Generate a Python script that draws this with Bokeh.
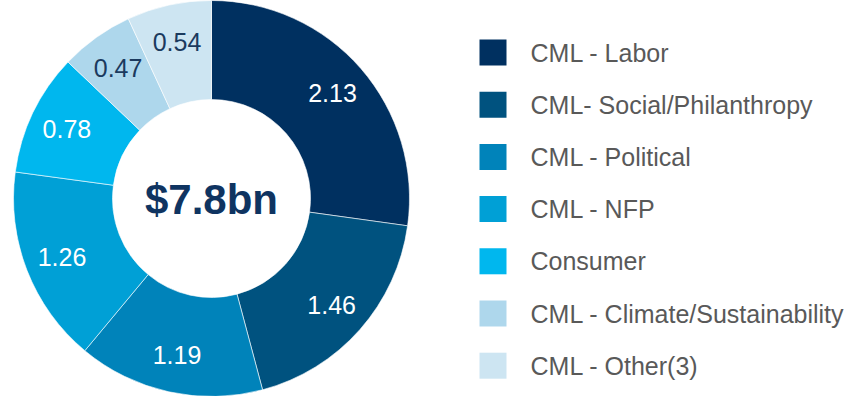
import math
from bokeh.plotting import figure
from bokeh.models import ColumnDataSource, Range1d
from bokeh.core.properties import value
from bokeh.embed import file_html
from bokeh.resources import INLINE

categories = ["CML - Labor", "CML- Social/Philanthropy", "CML - Political", "CML - NFP",
              "Consumer", "CML - Climate/Sustainability", "CML - Other(3)"]
values = [2.13, 1.46, 1.19, 1.26, 0.78, 0.47, 0.54]
center_label = "$7.8bn"

colors = ["#003060", "#00527F", "#0083BA", "#00A0D6", "#00B7EE", "#AED7EC", "#CDE5F2"]
label_colors = ["white", "white", "white", "white", "white", "#1B3A5E", "#1B3A5E"]

W, H = 849, 396
p = figure(width=W, height=H, output_backend="svg", toolbar_location=None,
           x_range=Range1d(0, W), y_range=Range1d(0, H), min_border=0)
p.axis.visible = False
p.xgrid.visible = False
p.ygrid.visible = False
p.outline_line_color = None
p.background_fill_color = "white"
p.border_fill_color = "white"

cx, cy = 211, H - 198
r_out, r_in = 198, 99

total = sum(values)
starts, ends, lx, ly = [], [], [], []
cum = 0.0
for v in values:
    a0 = math.pi / 2 - 2 * math.pi * cum / total
    cum += v
    a1 = math.pi / 2 - 2 * math.pi * cum / total
    starts.append(a0)
    ends.append(a1)
    mid = (a0 + a1) / 2
    lr = 0.81 * r_out
    lx.append(cx + lr * math.cos(mid))
    ly.append(cy + lr * math.sin(mid))

src = ColumnDataSource(dict(start=starts, end=ends, color=colors,
                            lx=lx, ly=ly, lab=[f"{v:.2f}" for v in values],
                            lc=label_colors))
p.annular_wedge(x=cx, y=cy, inner_radius=r_in, outer_radius=r_out,
                start_angle="start", end_angle="end", direction="clock",
                fill_color="color", line_color="white", line_width=0.6, source=src)
p.text(x="lx", y="ly", text="lab", text_color="lc", source=src,
       text_font=value("Liberation Sans"), text_font_size="25px",
       text_align="center", text_baseline="middle")
p.text(x=[cx], y=[cy - 1], text=[center_label], text_color="#0F3461",
       text_font=value("Liberation Sans"), text_font_style="bold",
       text_font_size="42px", text_align="center", text_baseline="middle")

# legend
row_y = [H - 52 - i * 52.2 for i in range(len(categories))]
lsrc = ColumnDataSource(dict(y=row_y, color=colors, name=categories))
p.rect(x=492.5, y="y", width=27, height=26, fill_color="color", line_color=None, source=lsrc)
p.text(x=530, y="y", text="name", text_color="#595959", source=lsrc,
       text_font=value("Liberation Sans"), text_font_size="25px",
       text_align="left", text_baseline="middle")

open("out.html", "w").write(file_html(p, INLINE))
